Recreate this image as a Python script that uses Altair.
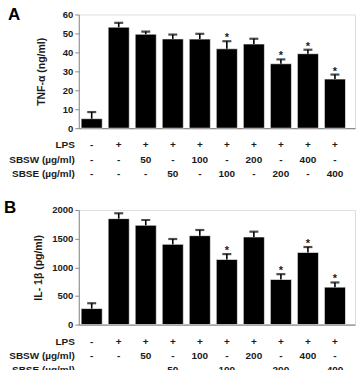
import altair as alt
import pandas as pd

# ---- data ----
conds = ["c1", "c2", "c3", "c4", "c5", "c6", "c7", "c8", "c9", "c10"]
lps = ["-", "+", "+", "+", "+", "+", "+", "+", "+", "+"]
sbsw = ["-", "-", "50", "-", "100", "-", "200", "-", "400", "-"]
sbse = ["-", "-", "-", "50", "-", "100", "-", "200", "-", "400"]
row_names = ["LPS", "SBSW (µg/ml)", "SBSE (µg/ml)"]

tnf = [5, 53.3, 49.6, 47.1, 47.0, 41.9, 44.4, 34.0, 39.3, 25.9]
tnf_err = [3.5, 2.3, 1.4, 2.3, 2.8, 4.0, 2.8, 2.3, 2.1, 2.4]
il1b = [280, 1848, 1732, 1400, 1551, 1137, 1528, 787, 1259, 653]
il1b_err = [93, 94, 93, 93, 99, 93, 93, 93, 94, 82]
signif = [False, False, False, False, False, True, False, True, True, True]

FONT = "Liberation Sans"
TXT = "#1a1a1a"
W = 277


def xscale():
    return alt.Scale(domain=conds, paddingInner=0.22, paddingOuter=0.22, align=0.2)


def panel(letter, values, errs, ytitle, ymax, ystep, h, title_pad, letter_x, letter_y):
    df = pd.DataFrame({
        "cond": conds, "value": values, "err": errs,
        "top": [v + e for v, e in zip(values, errs)],
        "star": ["*" if s else "" for s in signif],
    })
    xaxis = alt.Axis(title=None, labels=False, ticks=False, domain=True,
                     domainColor="#8a8a8a", domainWidth=1.2)
    yaxis = alt.Axis(title=ytitle, values=list(range(0, ymax + 1, ystep)),
                     format="d", labelOverlap=False,
                     grid=False, domainColor="#8a8a8a", tickColor="#8a8a8a",
                     tickSize=4, labelPadding=2, titlePadding=title_pad,
                     labelFont=FONT, labelFontSize=9.5, labelFontWeight="bold",
                     labelColor=TXT, titleFont=FONT, titleFontSize=10.5,
                     titleFontWeight="bold", titleColor=TXT)
    yscale = alt.Scale(domain=[0, ymax], nice=False, zero=True)

    def X():
        return alt.X("cond:N", scale=xscale(), sort=conds, axis=xaxis)

    def Y(f):
        return alt.Y(f, scale=yscale, axis=yaxis)

    base = alt.Chart(df)
    bars = base.mark_bar(color="black", stroke="white", strokeWidth=0.6).encode(
        x=X(), y=Y("value:Q"))
    rule = base.mark_rule(color="black", strokeWidth=1.6).encode(
        x=X(), y=Y("value:Q"), y2="top:Q")
    cap = base.mark_tick(color="black", thickness=2.2, size=9, orient="horizontal").encode(
        x=X(), y=Y("top:Q"))
    star = base.mark_text(font=FONT, fontSize=11, fontWeight="bold", color=TXT,
                          baseline="bottom", dy=2).encode(
        x=X(), y=Y("top:Q"), text="star:N")
    ldf = pd.DataFrame({"t": [letter]})
    let = alt.Chart(ldf).mark_text(font=FONT, fontSize=17, fontWeight="bold", color="black",
                                   align="left", baseline="middle").encode(
        x=alt.value(letter_x), y=alt.value(letter_y), text="t:N")
    plot = alt.layer(bars, rule, cap, star, let)

    # condition table below the plot
    tdf = pd.DataFrame({
        "cond": conds * 3,
        "row": [row_names[0]] * 10 + [row_names[1]] * 10 + [row_names[2]] * 10,
        "sym": lps + sbsw + sbse,
    })
    rscale = alt.Scale(type="point", domain=row_names, range=[h + 17, h + 46], padding=0)
    table = alt.Chart(tdf).mark_text(font=FONT, fontSize=10, fontWeight="bold",
                                     color=TXT, baseline="middle").encode(
        x=X(),
        y=alt.Y("row:N", scale=rscale, axis=None),
        text="sym:N")
    hdf = pd.DataFrame({"row": row_names})
    heads = alt.Chart(hdf).mark_text(font=FONT, fontSize=10, fontWeight="bold",
                                     color=TXT, align="right", baseline="middle").encode(
        x=alt.value(-4),
        y=alt.Y("row:N", scale=rscale, axis=None),
        text="row:N")
    tab = alt.layer(table, heads)

    return alt.layer(plot, tab).resolve_scale(y="independent").properties(width=W, height=h)


pA = panel("A", tnf, tnf_err, "TNF-α (ng/ml)", 60, 10, 114, 16, -71, 1)
pB = panel("B", il1b, il1b_err, "IL- 1β (pg/ml)", 2000, 500, 115, 8, -75, -2)

chart = alt.vconcat(pA, pB, spacing=18).properties(
    padding={"left": 3, "top": 5, "right": 0, "bottom": 0}
).configure_view(stroke=None).configure(background="white")

chart.save("out.html", embed_options={"renderer": "svg", "actions": False})
